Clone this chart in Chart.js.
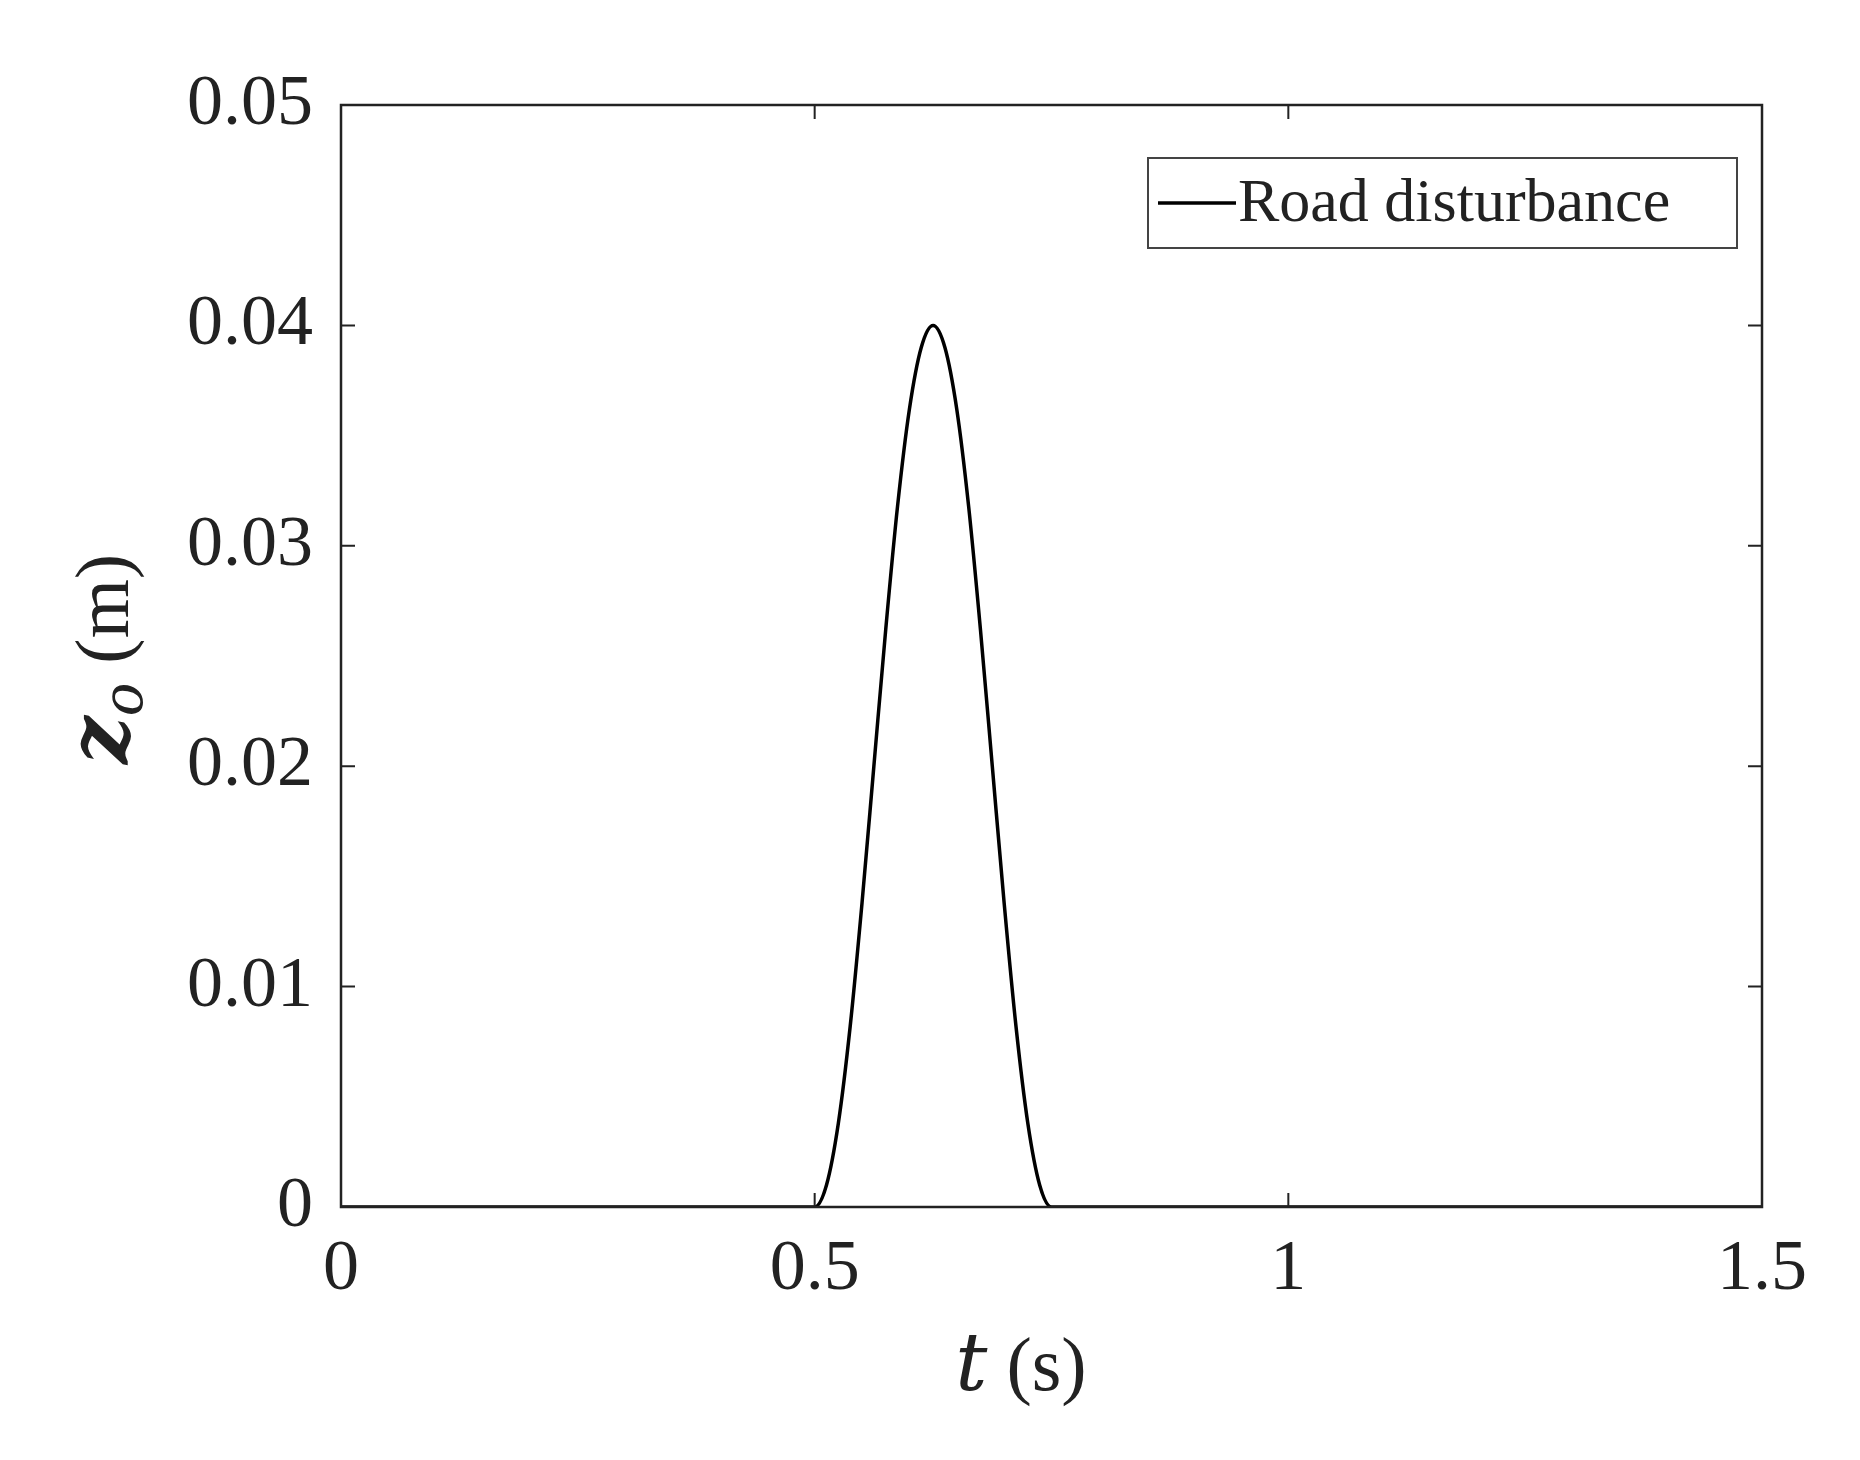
<!DOCTYPE html>
<html lang="en">
<head>
<meta charset="UTF-8">
<script src="https://cdn.jsdelivr.net/npm/chart.js"></script>
<title>Road disturbance</title>
<style>
  body { margin: 0; background: #fff; }
  #wrap { width: 1860px; height: 1460px; }
</style>
</head>
<body>
<div id="wrap"><canvas id="c"></canvas></div>
<script>
// time (s) and road profile z_o (m)
const times  = [0, 0.25, 0.5, 0.5125, 0.525, 0.5375, 0.55, 0.5625, 0.575, 0.5875, 0.6, 0.6125, 0.625,
                0.6375, 0.65, 0.6625, 0.675, 0.6875, 0.7, 0.7125, 0.725, 0.7375, 0.75, 1, 1.25, 1.5];
const zo     = [0, 0, 0, 0.001, 0.0038, 0.0082, 0.0138, 0.02, 0.0262, 0.0318, 0.0362, 0.039, 0.04,
                0.039, 0.0362, 0.0318, 0.0262, 0.02, 0.0138, 0.0082, 0.0038, 0.001, 0, 0, 0, 0];
const xTicks = [0, 0.5, 1, 1.5];
const yTicks = [0, 0.01, 0.02, 0.03, 0.04, 0.05];
const seriesName = 'Road disturbance';

const SERIF = '"Liberation Serif", "DejaVu Serif", serif';
const ink = '#222';

// MATLAB-like box, inward ticks, legend and axis titles
const matlabBox = {
  id: 'matlabBox',
  afterDraw(chart) {
    const { ctx, chartArea: a, scales: { x, y } } = chart;
    ctx.save();
    ctx.strokeStyle = ink;
    ctx.lineWidth = 2.5;
    ctx.strokeRect(a.left, a.top, a.right - a.left, a.bottom - a.top);
    const L = 14;
    ctx.lineWidth = 2;
    xTicks.forEach(v => {
      const px = x.getPixelForValue(v);
      ctx.beginPath();
      ctx.moveTo(px, a.bottom); ctx.lineTo(px, a.bottom - L);
      ctx.moveTo(px, a.top); ctx.lineTo(px, a.top + L);
      ctx.stroke();
    });
    yTicks.forEach(v => {
      const py = y.getPixelForValue(v);
      ctx.beginPath();
      ctx.moveTo(a.left, py); ctx.lineTo(a.left + L, py);
      ctx.moveTo(a.right, py); ctx.lineTo(a.right - L, py);
      ctx.stroke();
    });

    // legend
    const lx = 1148, ly = 158, lw = 589, lh = 90;
    ctx.fillStyle = '#fff';
    ctx.fillRect(lx, ly, lw, lh);
    ctx.strokeStyle = '#444';
    ctx.lineWidth = 2;
    ctx.strokeRect(lx, ly, lw, lh);
    ctx.strokeStyle = '#000';
    ctx.lineWidth = 3.5;
    ctx.beginPath();
    ctx.moveTo(lx + 10, ly + lh / 2); ctx.lineTo(lx + 88, ly + lh / 2);
    ctx.stroke();
    ctx.fillStyle = ink;
    ctx.font = '62px ' + SERIF;
    ctx.textBaseline = 'middle';
    ctx.textAlign = 'left';
    ctx.fillText(seriesName, lx + 90, ly + lh / 2 + 2);

    // x title: t (s)
    ctx.textBaseline = 'alphabetic';
    ctx.font = 'italic 80px "DejaVu Serif", serif';
    const tW = ctx.measureText('t').width;
    ctx.font = '76px ' + SERIF;
    const sW = ctx.measureText(' (s)').width;
    let sx = 1021 - (tW + sW) / 2;
    ctx.font = 'italic 80px "DejaVu Serif", serif';
    ctx.fillText('t', sx, 1390);
    ctx.font = '76px ' + SERIF;
    ctx.fillText(' (s)', sx + tW, 1390);

    // y title: z_o (m)
    ctx.translate(128, 659);
    ctx.rotate(-Math.PI / 2);
    ctx.font = 'bold italic 84px "DejaVu Serif", serif';
    const zW = ctx.measureText('z').width;
    ctx.font = 'italic 56px "DejaVu Serif", serif';
    const oW = ctx.measureText('o').width;
    ctx.font = '76px ' + SERIF;
    const mW = ctx.measureText(' (m)').width;
    sx = -(zW + oW + mW) / 2;
    ctx.font = 'bold italic 84px "DejaVu Serif", serif';
    ctx.fillText('z', sx, 0);
    ctx.font = 'italic 56px "DejaVu Serif", serif';
    ctx.fillText('o', sx + zW, 14);
    ctx.font = '76px ' + SERIF;
    ctx.fillText(' (m)', sx + zW + oW, 0);
    ctx.restore();
  }
};

new Chart(document.getElementById('c'), {
  type: 'line',
  data: {
    datasets: [{
      label: seriesName,
      data: times.map((t, i) => ({ x: t, y: zo[i] })),
      borderColor: '#000',
      borderWidth: 3.5,
      pointRadius: 0,
      tension: 0.4,
      cubicInterpolationMode: 'monotone'
    }]
  },
  options: {
    responsive: true,
    maintainAspectRatio: false,
    animation: false,
    layout: { padding: { top: 105, right: 98, left: 0, bottom: 0 } },
    plugins: { legend: { display: false }, tooltip: { enabled: false } },
    scales: {
      x: {
        type: 'linear', min: 0, max: 1.5,
        grid: { display: false },
        border: { display: false },
        afterBuildTicks: s => { s.ticks = xTicks.map(v => ({ value: v })); },
        afterFit: s => { s.height = 253; },
        ticks: { color: ink, font: { family: SERIF, size: 72 }, padding: 12, maxRotation: 0,
                 callback: v => String(v) }
      },
      y: {
        min: 0, max: 0.05,
        grid: { display: false },
        border: { display: false },
        afterBuildTicks: s => { s.ticks = yTicks.map(v => ({ value: v })); },
        afterFit: s => { s.width = 341; },
        ticks: { color: ink, font: { family: SERIF, size: 72 }, padding: 20,
                 callback: v => v === 0 ? '0' : v.toFixed(2) }
      }
    }
  },
  plugins: [matlabBox]
});
</script>
</body>
</html>
